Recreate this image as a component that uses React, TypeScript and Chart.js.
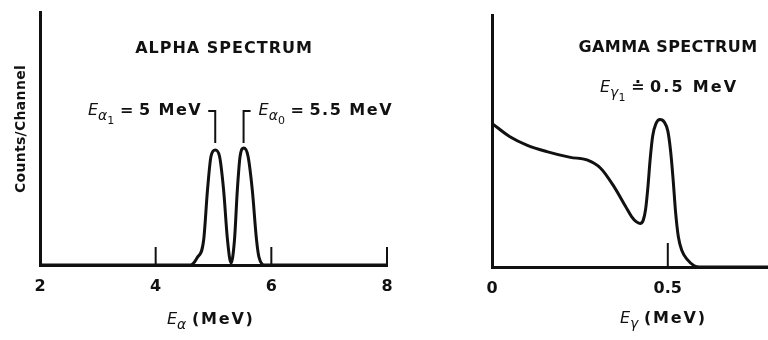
import React, { useEffect, useRef } from "react";
import { Chart, registerables } from "chart.js";

Chart.register(...registerables);

const INK = "#111111";
const SANS = '"DejaVu Sans", "Liberation Sans", sans-serif';

// ---------- Alpha spectrum ----------
const ALPHA_RANGE = [2, 8];
const ALPHA_TICKS = [2, 4, 6, 8];
const ALPHA_INNER_TICKS = [4, 6, 8];
const ALPHA_ENERGY = [2, 4.594, 4.715, 4.83, 4.896, 4.957, 5.031, 5.104, 5.175, 5.242, 5.303, 5.363, 5.412, 5.46, 5.524, 5.597, 5.671, 5.744, 5.787, 5.891, 8];
const ALPHA_COUNTS = [0, 0, 0.028, 0.099, 0.296, 0.43, 0.455, 0.43, 0.296, 0.099, 0.008, 0.099, 0.296, 0.43, 0.462, 0.43, 0.296, 0.099, 0.03, 0, 0];
const ALPHA_PEAKS = [5.03, 5.52];
const ALPHA_PEAK_SUBSCRIPTS = ["1", "0"];
const ALPHA_PEAK_VALUES = ["5 MeV", "5.5 MeV"];
const ALPHA_TITLE = "ALPHA SPECTRUM";
const ALPHA_X_SYMBOL = "α";
const Y_TITLE = "Counts/Channel";

// ---------- Gamma spectrum ----------
const GAMMA_RANGE = [0, 0.785];
const GAMMA_TICKS = [0, 0.5];
const GAMMA_INNER_TICKS = [0.5];
const GAMMA_ENERGY = [0, 0.051, 0.099, 0.156, 0.223, 0.27, 0.309, 0.347, 0.38, 0.397, 0.41, 0.421, 0.43, 0.437, 0.443, 0.45, 0.457, 0.466, 0.478, 0.49, 0.5, 0.508, 0.515, 0.522, 0.53, 0.54, 0.555, 0.575, 0.59, 0.785];
const GAMMA_COUNTS = [0.57, 0.517, 0.484, 0.458, 0.435, 0.425, 0.392, 0.319, 0.24, 0.2, 0.18, 0.173, 0.185, 0.23, 0.31, 0.43, 0.52, 0.568, 0.585, 0.575, 0.54, 0.46, 0.35, 0.22, 0.12, 0.065, 0.03, 0.005, 0, 0];
const GAMMA_TITLE = "GAMMA SPECTRUM";
const GAMMA_PEAK_SUBSCRIPT = "1";
const GAMMA_PEAK_VALUE = "0.5 MeV";
const GAMMA_X_SYMBOL = "γ";
const X_UNIT = "(MeV)";

type Run = { t: string; font: string; dy?: number; ls?: number };

const bold = (s: number) => `bold ${s}px ${SANS}`;
const italic = (s: number) => `italic ${s}px ${SANS}`;
const plain = (s: number) => `${s}px ${SANS}`;

function setLs(ctx: any, ls: number) {
  try {
    ctx.letterSpacing = `${ls}px`;
  } catch (e) {
    /* ignore */
  }
}

function drawRuns(ctx: CanvasRenderingContext2D, x: number, y: number, runs: Run[], align: "left" | "right" | "center" = "left") {
  ctx.save();
  ctx.textAlign = "left";
  ctx.textBaseline = "alphabetic";
  ctx.fillStyle = INK;
  const widths = runs.map((r) => {
    ctx.font = r.font;
    setLs(ctx, r.ls || 0);
    return ctx.measureText(r.t).width;
  });
  const total = widths.reduce((a, b) => a + b, 0);
  let cx = align === "left" ? x : align === "right" ? x - total : x - total / 2;
  runs.forEach((r, i) => {
    ctx.font = r.font;
    setLs(ctx, r.ls || 0);
    ctx.fillText(r.t, cx, y + (r.dy || 0));
    cx += widths[i];
  });
  ctx.restore();
}

function line(ctx: CanvasRenderingContext2D, pts: number[][]) {
  ctx.beginPath();
  pts.forEach(([px, py], i) => (i === 0 ? ctx.moveTo(px, py) : ctx.lineTo(px, py)));
  ctx.stroke();
}

function energyRuns(symbol: string): Run[] {
  return [
    { t: "E", font: italic(16) },
    { t: symbol, font: italic(14), dy: 5 },
    { t: " ", font: bold(16) },
    { t: X_UNIT, font: bold(16), ls: 1.8 },
  ];
}

const alphaPlugin = {
  id: "alphaDecor",
  afterDraw(chart: any) {
    const { ctx, chartArea: a } = chart;
    const x = chart.scales.x;
    ctx.save();
    ctx.strokeStyle = INK;
    ctx.lineWidth = 2;
    ALPHA_INNER_TICKS.forEach((v) => {
      const px = x.getPixelForValue(v);
      line(ctx, [[px, a.bottom], [px, a.bottom - 18]]);
    });
    const bTop = a.top + 99;
    const bBot = a.top + 131;
    ALPHA_PEAKS.forEach((v, i) => {
      const px = x.getPixelForValue(v);
      const dir = i === 0 ? -1 : 1;
      line(ctx, [[px + dir * 7, bTop], [px, bTop], [px, bBot]]);
      const runs: Run[] = [
        { t: "E", font: italic(16) },
        { t: "α", font: italic(14), dy: 5 },
        { t: ALPHA_PEAK_SUBSCRIPTS[i], font: plain(11), dy: 9 },
        { t: " = ", font: bold(16) },
        { t: ALPHA_PEAK_VALUES[i], font: bold(16), ls: 1.5 },
      ];
      if (i === 0) drawRuns(ctx, px - 13, a.top + 103, runs, "right");
      else drawRuns(ctx, px + 15, a.top + 103, runs, "left");
    });
    drawRuns(ctx, a.left + 184, a.top + 41, [{ t: ALPHA_TITLE, font: bold(16), ls: 1 }], "center");
    drawRuns(ctx, a.left + 127, 324, energyRuns(ALPHA_X_SYMBOL), "left");
    ctx.save();
    ctx.translate(20, 129);
    ctx.rotate(-Math.PI / 2);
    drawRuns(ctx, 0, 5, [{ t: Y_TITLE, font: bold(14), ls: 0.3 }], "center");
    ctx.restore();
    ctx.restore();
  },
};

const gammaPlugin = {
  id: "gammaDecor",
  afterDraw(chart: any) {
    const { ctx, chartArea: a } = chart;
    const x = chart.scales.x;
    ctx.save();
    ctx.strokeStyle = INK;
    ctx.lineWidth = 2;
    GAMMA_INNER_TICKS.forEach((v) => {
      const px = x.getPixelForValue(v);
      line(ctx, [[px, a.bottom], [px, a.bottom - 24]]);
    });
    drawRuns(ctx, a.left + 176, a.top + 37, [{ t: GAMMA_TITLE, font: bold(16), ls: 0.4 }], "center");
    drawRuns(
      ctx,
      a.left + 108,
      a.top + 77,
      [
        { t: "E", font: italic(16) },
        { t: "γ", font: italic(14), dy: 5 },
        { t: GAMMA_PEAK_SUBSCRIPT, font: plain(11), dy: 9 },
        { t: " ≐ ", font: bold(16) },
        { t: GAMMA_PEAK_VALUE, font: bold(16), ls: 2.2 },
      ],
      "left"
    );
    drawRuns(ctx, a.left + 128, 323, energyRuns(GAMMA_X_SYMBOL), "left");
    ctx.restore();
  },
};

function makeConfig(opts: {
  energy: number[];
  counts: number[];
  range: number[];
  ticks: number[];
  yWidth: number;
  top: number;
  right: number;
  xHeight: number;
  plugin: any;
}): any {
  return {
    type: "line",
    data: {
      datasets: [
        {
          data: opts.energy.map((e, i) => ({ x: e, y: opts.counts[i] })),
          borderColor: INK,
          borderWidth: 3,
          pointRadius: 0,
          fill: false,
          tension: 0.4,
          cubicInterpolationMode: "monotone",
        },
      ],
    },
    options: {
      animation: false,
      responsive: false,
      devicePixelRatio: 1,
      events: [],
      layout: { padding: { top: opts.top, right: opts.right, left: 0, bottom: 0 } },
      plugins: { legend: { display: false }, tooltip: { enabled: false }, title: { display: false } },
      scales: {
        x: {
          type: "linear",
          min: opts.range[0],
          max: opts.range[1],
          grid: { display: false, drawTicks: false },
          border: { display: true, color: INK, width: 3 },
          ticks: {
            color: INK,
            padding: 12,
            maxRotation: 0,
            autoSkip: false,
            font: { family: SANS, size: 16, weight: "bold" },
          },
          afterBuildTicks: (s: any) => {
            s.ticks = opts.ticks.map((v) => ({ value: v }));
          },
          afterFit: (s: any) => {
            s.height = opts.xHeight;
          },
        },
        y: {
          type: "linear",
          min: 0,
          max: 1,
          grid: { display: false, drawTicks: false },
          border: { display: true, color: INK, width: 3 },
          ticks: { display: false },
          afterFit: (s: any) => {
            s.width = opts.yWidth;
          },
        },
      },
    },
    plugins: [opts.plugin],
  };
}

function SpectrumChart(props: { config: any; left: number; width: number }) {
  const ref = useRef<HTMLCanvasElement | null>(null);
  useEffect(() => {
    if (!ref.current) return;
    const chart = new Chart(ref.current, props.config);
    return () => chart.destroy();
  }, []);
  return (
    <canvas
      ref={ref}
      width={props.width}
      height={340}
      style={{ position: "absolute", left: props.left, top: 0, width: props.width, height: 340 }}
    />
  );
}

export default function App() {
  const alphaConfig = makeConfig({
    energy: ALPHA_ENERGY,
    counts: ALPHA_COUNTS,
    range: ALPHA_RANGE,
    ticks: ALPHA_TICKS,
    yWidth: 40,
    top: 12,
    right: 33,
    xHeight: 75,
    plugin: alphaPlugin,
  });
  const gammaConfig = makeConfig({
    energy: GAMMA_ENERGY,
    counts: GAMMA_COUNTS,
    range: GAMMA_RANGE,
    ticks: GAMMA_TICKS,
    yWidth: 72,
    top: 15,
    right: 0,
    xHeight: 73,
    plugin: gammaPlugin,
  });
  return (
    <div style={{ position: "absolute", left: 0, top: 0, width: 768, height: 340, background: "#fff", overflow: "hidden" }}>
      <SpectrumChart config={alphaConfig} left={0} width={420} />
      <SpectrumChart config={gammaConfig} left={420} width={348} />
    </div>
  );
}
